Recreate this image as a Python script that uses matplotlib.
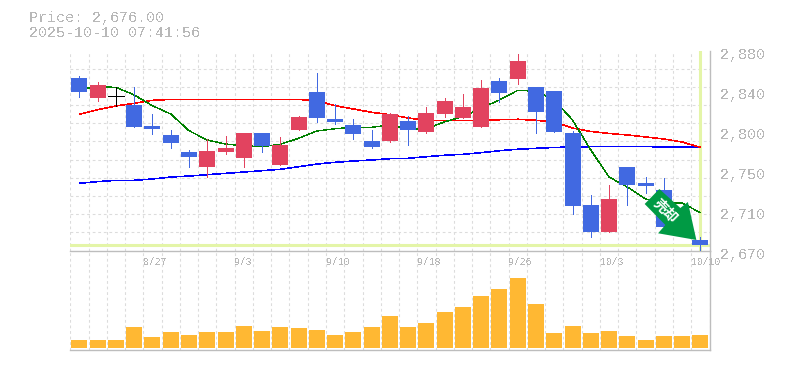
import matplotlib
matplotlib.use('Agg')
import matplotlib.pyplot as plt
import numpy as np

from matplotlib.patches import Polygon
from matplotlib.transforms import Affine2D, ScaledTranslation

TITLE_PRICE = 'Price: 2,676.00'
TITLE_TIME = '2025-10-10 07:41:56'
LAST_PRICE = 2676.0

PRICE_TICKS = [2670, 2712, 2754, 2796, 2838, 2880]
PRICE_LABELS = ['2,670', '2,710', '2,750', '2,800', '2,840', '2,880']
DATE_POS = [4, 9, 14, 19, 24, 29, 34]
DATE_LABELS = ['8/27', '9/3', '9/10', '9/18', '9/26', '10/3', '10/10']

OPENS = [2851.1, 2830.1, 2832.2, 2822.8, 2800.7, 2791.3, 2773.4, 2757.7, 2773.4, 2767.1, 2793.4, 2759.8,
         2796.5, 2836.4, 2808.1, 2801.8, 2785.0, 2785.0, 2806.0, 2794.4, 2813.3, 2809.1, 2799.6, 2848.0,
         2850.1, 2841.7, 2837.5, 2793.4, 2717.8, 2689.4, 2757.7, 2740.9, 2733.5, 2707.0, 2681.0]
CLOSES = [2836.4, 2843.8, 2832.2, 2799.6, 2797.6, 2782.9, 2768.2, 2774.5, 2777.6, 2793.4, 2779.7, 2780.8,
          2810.2, 2809.1, 2804.9, 2792.3, 2778.7, 2813.3, 2796.5, 2814.4, 2827.0, 2820.7, 2840.6, 2835.4,
          2869.0, 2815.4, 2794.4, 2716.7, 2689.4, 2724.1, 2738.8, 2737.7, 2694.7, 2689.0, 2676.0]
HIGHS = [2853.2, 2846.9, 2841.7, 2841.7, 2813.3, 2796.5, 2775.5, 2787.1, 2790.2, 2793.4, 2793.4, 2789.2,
         2811.2, 2856.4, 2823.8, 2808.1, 2796.5, 2814.4, 2811.2, 2820.7, 2830.1, 2834.3, 2849.0, 2851.1,
         2876.3, 2841.7, 2837.5, 2795.5, 2728.3, 2738.8, 2757.7, 2747.1, 2746.1, 2710.0, 2684.2]
LOWS = [2831.5, 2827.0, 2821.7, 2799.6, 2792.3, 2777.6, 2757.7, 2747.1, 2771.3, 2757.7, 2773.4, 2759.8,
        2796.5, 2804.9, 2802.8, 2787.1, 2777.6, 2783.9, 2780.8, 2793.4, 2810.2, 2809.1, 2799.6, 2825.9,
        2844.8, 2793.4, 2794.4, 2708.3, 2684.2, 2689.4, 2717.8, 2730.4, 2694.7, 2685.0, 2670.0]

MA_SHORT = [2839.6, 2841.7, 2841.4, 2833.3, 2822.0, 2813.3, 2795.8, 2786.0, 2781.8, 2780.0, 2779.0, 2781.5,
            2787.8, 2795.5, 2797.9, 2799.4, 2799.4, 2801.8, 2797.6, 2797.6, 2805.2, 2810.5, 2819.6, 2828.0,
            2838.2, 2837.2, 2828.0, 2807.0, 2775.5, 2747.2, 2736.7, 2724.1, 2719.9, 2719.9, 2709.7]
MA_MID = [2813.0, 2817.9, 2821.7, 2824.6, 2827.7, 2828.6, 2828.6, 2828.6, 2828.6, 2828.6, 2828.6, 2828.6,
          2828.6, 2827.3, 2822.0, 2818.6, 2815.1, 2812.6, 2809.1, 2806.7, 2806.7, 2806.7, 2806.7, 2807.3,
          2807.8, 2806.7, 2804.9, 2798.6, 2795.0, 2792.9, 2791.3, 2789.2, 2787.1, 2783.9, 2778.4]
MA_LONG = [2740.6, 2742.3, 2743.7, 2743.7, 2745.1, 2747.1, 2748.2, 2749.6, 2751.0, 2752.4, 2753.8, 2755.3,
           2758.0, 2760.8, 2762.6, 2764.0, 2765.0, 2766.4, 2766.8, 2768.5, 2770.0, 2771.0, 2772.7, 2774.8,
           2776.3, 2777.3, 2778.2, 2778.7, 2779.0, 2779.0, 2779.0, 2779.0, 2778.9, 2778.7, 2778.4]

VOLUMES = [8, 8, 8, 21, 11, 16, 13, 16, 16, 22, 17, 21, 20, 18, 13, 16, 21, 33,
           21, 25, 37, 42, 53, 60, 71, 45, 15, 22, 15, 17, 12, 8, 12, 12, 13]

# arrow outline in pixels relative to its tip, y pointing up
ARROW_SHAPE = [(-37, 51), (-16, 32), (-8.5, 38), (0, 0), (-38.3, 6.7), (-31, 15), (-51.7, 36)]

FIG_W, FIG_H = 785, 370
LEFT, RIGHT = 70.3, 709.5
PRICE_TOP, PRICE_BOTTOM = 50.5, 250.5
VOL_BOTTOM = 349.5

GRID = '#dcdcdc'
BORDER = '#bdbdbd'
TEXT = '#b8b8b8'
UP = '#e2435f'
DOWN = '#4169e1'
HILITE = '#e4f5a8'
MONO = 'Liberation Mono'
THIN = 0.4


def axes_rect(top: float, bottom: float) -> list[float]:
    return [LEFT / FIG_W, 1 - bottom / FIG_H, (RIGHT - LEFT) / FIG_W, (bottom - top) / FIG_H]


def style_grid(ax: plt.Axes) -> None:
    n = len(OPENS)
    ax.set_xlim(-0.5, n - 0.5)
    ax.set_xticks(np.arange(n + 1) - 0.5)
    ax.tick_params(axis='x', length=0, labelbottom=False)
    ax.grid(axis='x', color=GRID, lw=0.8, ls=(0, (2.5, 2.5)), zorder=0)
    ax.set_axisbelow(True)
    ax.patch.set_alpha(0)
    for side in ('top', 'left'):
        ax.spines[side].set_visible(False)
    for side in ('bottom', 'right'):
        ax.spines[side].set_color(BORDER)
        ax.spines[side].set_linewidth(1.0)


def plot_candles(ax: plt.Axes) -> None:
    xs = np.arange(len(OPENS))
    opens = np.array(OPENS)
    closes = np.array(CLOSES)
    colors = [UP if c > o else DOWN if c < o else 'black' for o, c in zip(opens, closes)]
    ax.vlines(xs, LOWS, HIGHS, colors=colors, lw=THIN, antialiased=False, zorder=5)
    ax.bar(xs, np.abs(closes - opens), bottom=np.minimum(opens, closes), width=0.876, color=colors,
           antialiased=False, zorder=6)
    flat = opens == closes
    ax.hlines(opens[flat], xs[flat] - 0.438, xs[flat] + 0.438, colors='black', lw=THIN,
              antialiased=False, zorder=6)


def plot_arrow(ax: plt.Axes) -> None:
    tip_x, tip_y = ax.transData.transform((len(OPENS) - 1, LAST_PRICE))
    tf = Affine2D().translate(tip_x - 4, tip_y + 4.8)
    ax.add_patch(Polygon(ARROW_SHAPE, closed=True, transform=tf, facecolor='#009a44',
                         edgecolor='none', zorder=8, clip_on=False))
    ax.text(-31, 29, '売却', transform=tf, color='white', fontsize=10, fontweight='bold',
            family=['Noto Sans CJK JP', 'DejaVu Sans'], rotation=-45, rotation_mode='anchor',
            ha='center', va='center', zorder=9, antialiased=True)


def main() -> None:
    plt.rcParams['text.antialiased'] = False

    fig = plt.figure(figsize=(FIG_W / 100, FIG_H / 100), dpi=100)
    ax = fig.add_axes(axes_rect(PRICE_TOP, PRICE_BOTTOM))
    ax_vol = fig.add_axes(axes_rect(PRICE_BOTTOM, VOL_BOTTOM))

    style_grid(ax)
    ax.set_ylim(PRICE_TICKS[0], PRICE_TICKS[-1])
    ax.yaxis.tick_right()
    ax.set_yticks(PRICE_TICKS)
    ax.set_yticklabels(PRICE_LABELS, family=MONO, fontsize=10.8, color=TEXT)
    ax.tick_params(axis='y', length=0, pad=7.5)
    # the labels sit a little below their grid position
    shift = ScaledTranslation(0, -2.5 / 100, fig.dpi_scale_trans)
    for label in ax.get_yticklabels():
        label.set_transform(label.get_transform() + shift)
    ax.set_yticks(np.linspace(PRICE_TICKS[0], PRICE_TICKS[-1], 12), minor=True)
    ax.tick_params(axis='y', which='minor', length=0)
    ax.grid(axis='y', which='minor', color=GRID, lw=0.8, ls=(0, (2.5, 2.5)), zorder=0)

    xs = np.arange(len(OPENS))
    ax.axhline(LAST_PRICE, color=HILITE, lw=2.2, zorder=2)
    ax.axvline(xs[-1], color=HILITE, lw=2.2, zorder=2)
    ax.plot(xs, MA_LONG, color='#0000ff', lw=THIN, antialiased=False, zorder=3)
    ax.plot(xs, MA_MID, color='#ff0000', lw=THIN, antialiased=False, zorder=3)
    ax.plot(xs, MA_SHORT, color='#008000', lw=0.28, antialiased=False, zorder=3)
    plot_candles(ax)
    plot_arrow(ax)

    style_grid(ax_vol)
    ax_vol.set_ylim(-1.5, 99)
    ax_vol.set_yticks([])
    ax_vol.bar(xs, VOLUMES, width=0.876, color='#ffb833', antialiased=False, zorder=3)
    for pos, label in zip(DATE_POS, DATE_LABELS):
        ax_vol.annotate(label, xy=(pos - 0.5, 1), xycoords=('data', 'axes fraction'),
                        xytext=(0, -8), textcoords='offset points', family=MONO, fontsize=7.0,
                        color=TEXT, ha='left', va='center', annotation_clip=False, zorder=4)

    fig.text(29 / FIG_W, 1 - 18 / FIG_H, TITLE_PRICE, family=MONO, fontsize=10.8, color=TEXT, va='center')
    fig.text(29 / FIG_W, 1 - 33 / FIG_H, TITLE_TIME, family=MONO, fontsize=10.8, color=TEXT, va='center')

    fig.savefig('out.png', dpi=100)


if __name__ == '__main__':
    main()
